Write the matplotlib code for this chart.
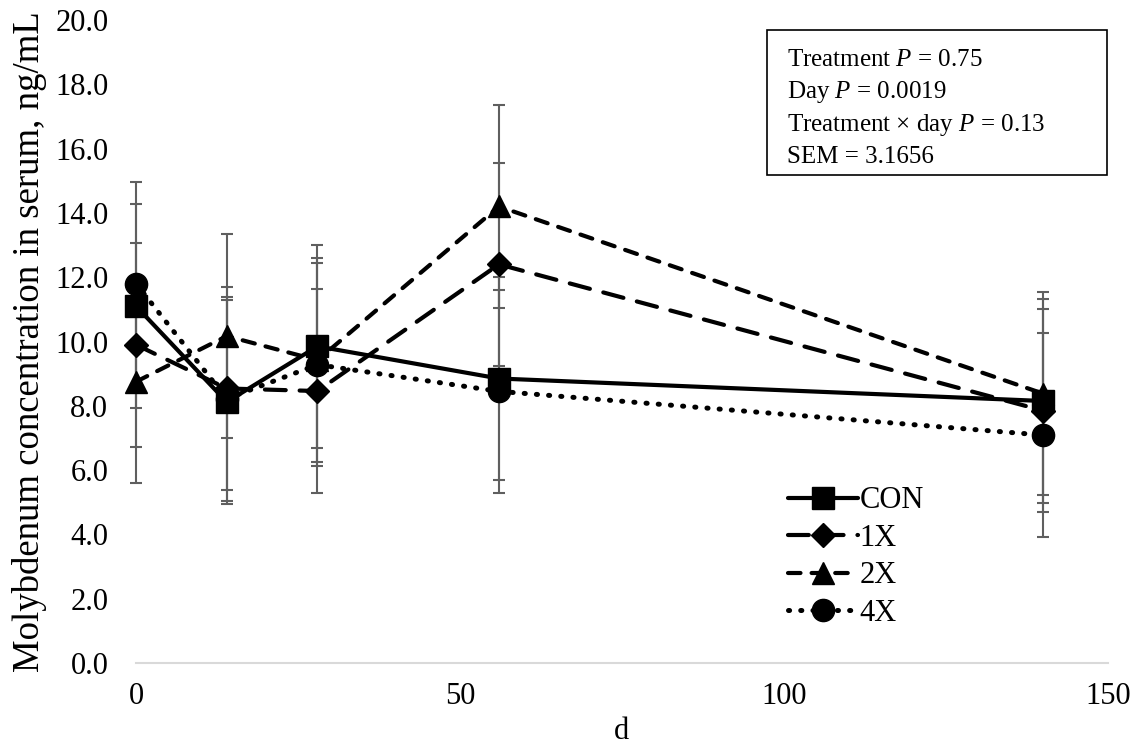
import matplotlib
matplotlib.use('Agg')
import matplotlib.pyplot as plt
from matplotlib.patches import Rectangle

plt.rcParams['font.family'] = ['Liberation Serif', 'DejaVu Serif']
plt.rcParams['mathtext.fontset'] = 'custom'
plt.rcParams['mathtext.rm'] = 'Liberation Serif'
plt.rcParams['mathtext.it'] = 'Liberation Serif:italic'
plt.rcParams['lines.scale_dashes'] = False

# data
days = [0, 14, 28, 56, 140]
con = [11.1, 8.12, 9.85, 8.85, 8.15]
x1 = [9.9, 8.54, 8.46, 12.4, 7.85]
x2 = [8.75, 10.17, 9.42, 14.2, 8.38]
x4 = [11.8, 8.22, 9.28, 8.45, 7.09]
sem = 3.1656
labels = ['CON', '1X', '2X', '4X']
stats = ['Treatment $P$ = 0.75', 'Day $P$ = 0.0019',
         'Treatment \u00d7 day $P$ = 0.13', 'SEM = 3.1656']

series = [con, x1, x2, x4]
markers = ['s', 'D', '^', 'o']
msizes = [16, 12, 16, 16]
styles = ['-', (0, (15, 10)), (0, (9, 8)), (0, (0.8, 8))]
widths = [3, 3, 3, 3.6]

fig = plt.figure(figsize=(11.46, 7.47), dpi=100)
ax = fig.add_axes([0.1187, 0.1124, 0.8481, 0.8608])

for vals in series:
    ax.errorbar(days, vals, yerr=sem, fmt='none', ecolor='#5f5f5f',
                elinewidth=1.5, capsize=4.5, capthick=1.5, zorder=1,
                clip_on=False)

for vals, lab, m, ms, ls, lw in zip(series, labels, markers, msizes, styles, widths):
    ax.plot(days, vals, color='black', lw=lw, linestyle=ls, marker=m,
            markersize=ms, label=lab, dash_capstyle='round',
            solid_capstyle='round', zorder=3, clip_on=False)

ax.set_xlim(0, 150)
ax.set_ylim(0, 20)
ax.set_xticks([0, 50, 100, 150])
ax.set_yticks(range(0, 21, 2))
ax.set_yticklabels(['%.1f' % v for v in range(0, 21, 2)])
ax.tick_params(length=0, labelsize=22)
ax.tick_params(axis='y', pad=20)
ax.tick_params(axis='x', pad=14)
for s in ['top', 'right', 'left']:
    ax.spines[s].set_visible(False)
ax.spines['bottom'].set_color('#d9d9d9')
ax.spines['bottom'].set_linewidth(1.5)

ax.set_xlabel('d', fontsize=22, labelpad=4)
ax.set_ylabel('Molybdenum concentration in serum, ng/mL', fontsize=26.5, labelpad=6)

leg = ax.legend(loc='upper left', bbox_to_anchor=(0.658, 0.294), frameon=False,
                fontsize=22, handlelength=2.3, handletextpad=0.05,
                labelspacing=0.28, borderaxespad=0)

ax.add_patch(Rectangle((0.649, 0.759), 0.35, 0.225, transform=ax.transAxes,
                       fill=False, edgecolor='black', lw=1.2, clip_on=False))
for i, t in enumerate(stats):
    ax.text(0.670, 0.938 - i * 0.0505, t, transform=ax.transAxes,
            fontsize=18, va='center', ha='left')

plt.savefig('out.png', dpi=100)
